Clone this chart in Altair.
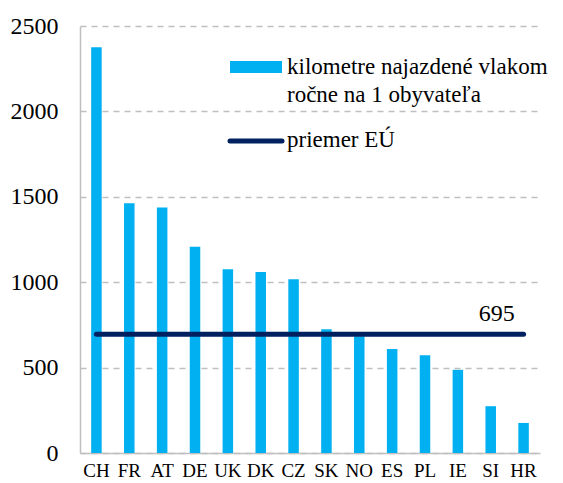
import altair as alt
import pandas as pd

countries = ["CH", "FR", "AT", "DE", "UK", "DK", "CZ", "SK", "NO", "ES", "PL", "IE", "SI", "HR"]
km_per_capita = [2375, 1462, 1438, 1207, 1076, 1060, 1018, 724, 683, 609, 573, 487, 274, 176]
eu_average = 695
y_ticks = [0, 500, 1000, 1500, 2000, 2500]
legend_bar_lines = ["kilometre najazdené vlakom", "ročne na 1 obyvateľa"]
legend_line_label = "priemer EÚ"

BAR = "#00B0F0"
NAVY = "#002060"
FONT = "'Liberation Serif', 'Times New Roman', 'DejaVu Serif', serif"
FS = 24
LFS = 23

df = pd.DataFrame({"country": countries, "value": km_per_capita})
df_avg = pd.DataFrame({"country": countries, "avg": [eu_average] * len(countries)})
df_lbl = pd.DataFrame({"country": ["SI"], "avg": [eu_average], "txt": [str(eu_average)]})
dummy = pd.DataFrame({"a": [0]})

x_axis = alt.Axis(title=None, labelAngle=0, ticks=False, labelPadding=8,
                  labelFontSize=19, labelFont=FONT, labelColor="#000000",
                  domainColor="#BFBFBF", domainWidth=1.5, grid=False)
y_axis = alt.Axis(title=None, values=y_ticks, format="d", ticks=False, labelPadding=22,
                  labelFontSize=FS, labelFont=FONT, labelColor="#000000",
                  domainColor="#BFBFBF", domainWidth=1.5,
                  grid=True, gridColor="#BFBFBF", gridDash=[6, 5], gridWidth=1.3)
x_scale = alt.Scale(paddingInner=0.68, paddingOuter=0.34)
y_scale = alt.Scale(domain=[0, 2500], nice=False)

bars = alt.Chart(df).mark_bar(color=BAR).encode(
    x=alt.X("country:N", sort=countries, scale=x_scale, axis=x_axis),
    y=alt.Y("value:Q", scale=y_scale, axis=y_axis),
)

avg_line = alt.Chart(df_avg).mark_line(color=NAVY, strokeWidth=5, strokeCap="round").encode(
    x=alt.X("country:N", sort=countries, scale=x_scale, axis=x_axis),
    y=alt.Y("avg:Q", scale=y_scale, axis=y_axis),
)

avg_text = alt.Chart(df_lbl).mark_text(font=FONT, fontSize=FS, color="#000000",
                                       dx=6, dy=-20, baseline="middle").encode(
    x=alt.X("country:N", sort=countries, scale=x_scale, axis=x_axis),
    y=alt.Y("avg:Q", scale=y_scale, axis=y_axis),
    text="txt:N",
)

leg_rect = alt.Chart(dummy).mark_rect(color=BAR).encode(
    x=alt.value(150), x2=alt.value(202), y=alt.value(35), y2=alt.value(47))
leg_t1 = alt.Chart(dummy).mark_text(font=FONT, fontSize=LFS, align="left", baseline="middle",
                                    color="#000000").encode(
    x=alt.value(207), y=alt.value(41), text=alt.value(legend_bar_lines[0]))
leg_t2 = alt.Chart(dummy).mark_text(font=FONT, fontSize=LFS, align="left", baseline="middle",
                                    color="#000000").encode(
    x=alt.value(207), y=alt.value(69), text=alt.value(legend_bar_lines[1]))
leg_rule = alt.Chart(dummy).mark_rule(color=NAVY, strokeWidth=5, strokeCap="round").encode(
    x=alt.value(150), x2=alt.value(202), y=alt.value(115))
leg_t3 = alt.Chart(dummy).mark_text(font=FONT, fontSize=LFS, align="left", baseline="middle",
                                    color="#000000").encode(
    x=alt.value(207), y=alt.value(114), text=alt.value(legend_line_label))

chart = alt.layer(bars, avg_line, avg_text, leg_rect, leg_t1, leg_t2, leg_rule, leg_t3).properties(
    width=460, height=427,
    autosize=alt.AutoSizeParams(type="none"),
    padding={"left": 72, "top": 18, "right": 15, "bottom": 30},
    background="#FFFFFF",
).configure_view(stroke=None).configure_axis(
    labelFont=FONT, labelColor="#000000", ticks=False,
    domainColor="#BFBFBF", domainWidth=1.5,
).configure_axisX(labelFontSize=19, labelPadding=8, grid=False
).configure_axisY(labelFontSize=FS, labelPadding=22
).configure_text(font=FONT)

chart.save("out.html", embed_options={"renderer": "svg", "actions": False})
